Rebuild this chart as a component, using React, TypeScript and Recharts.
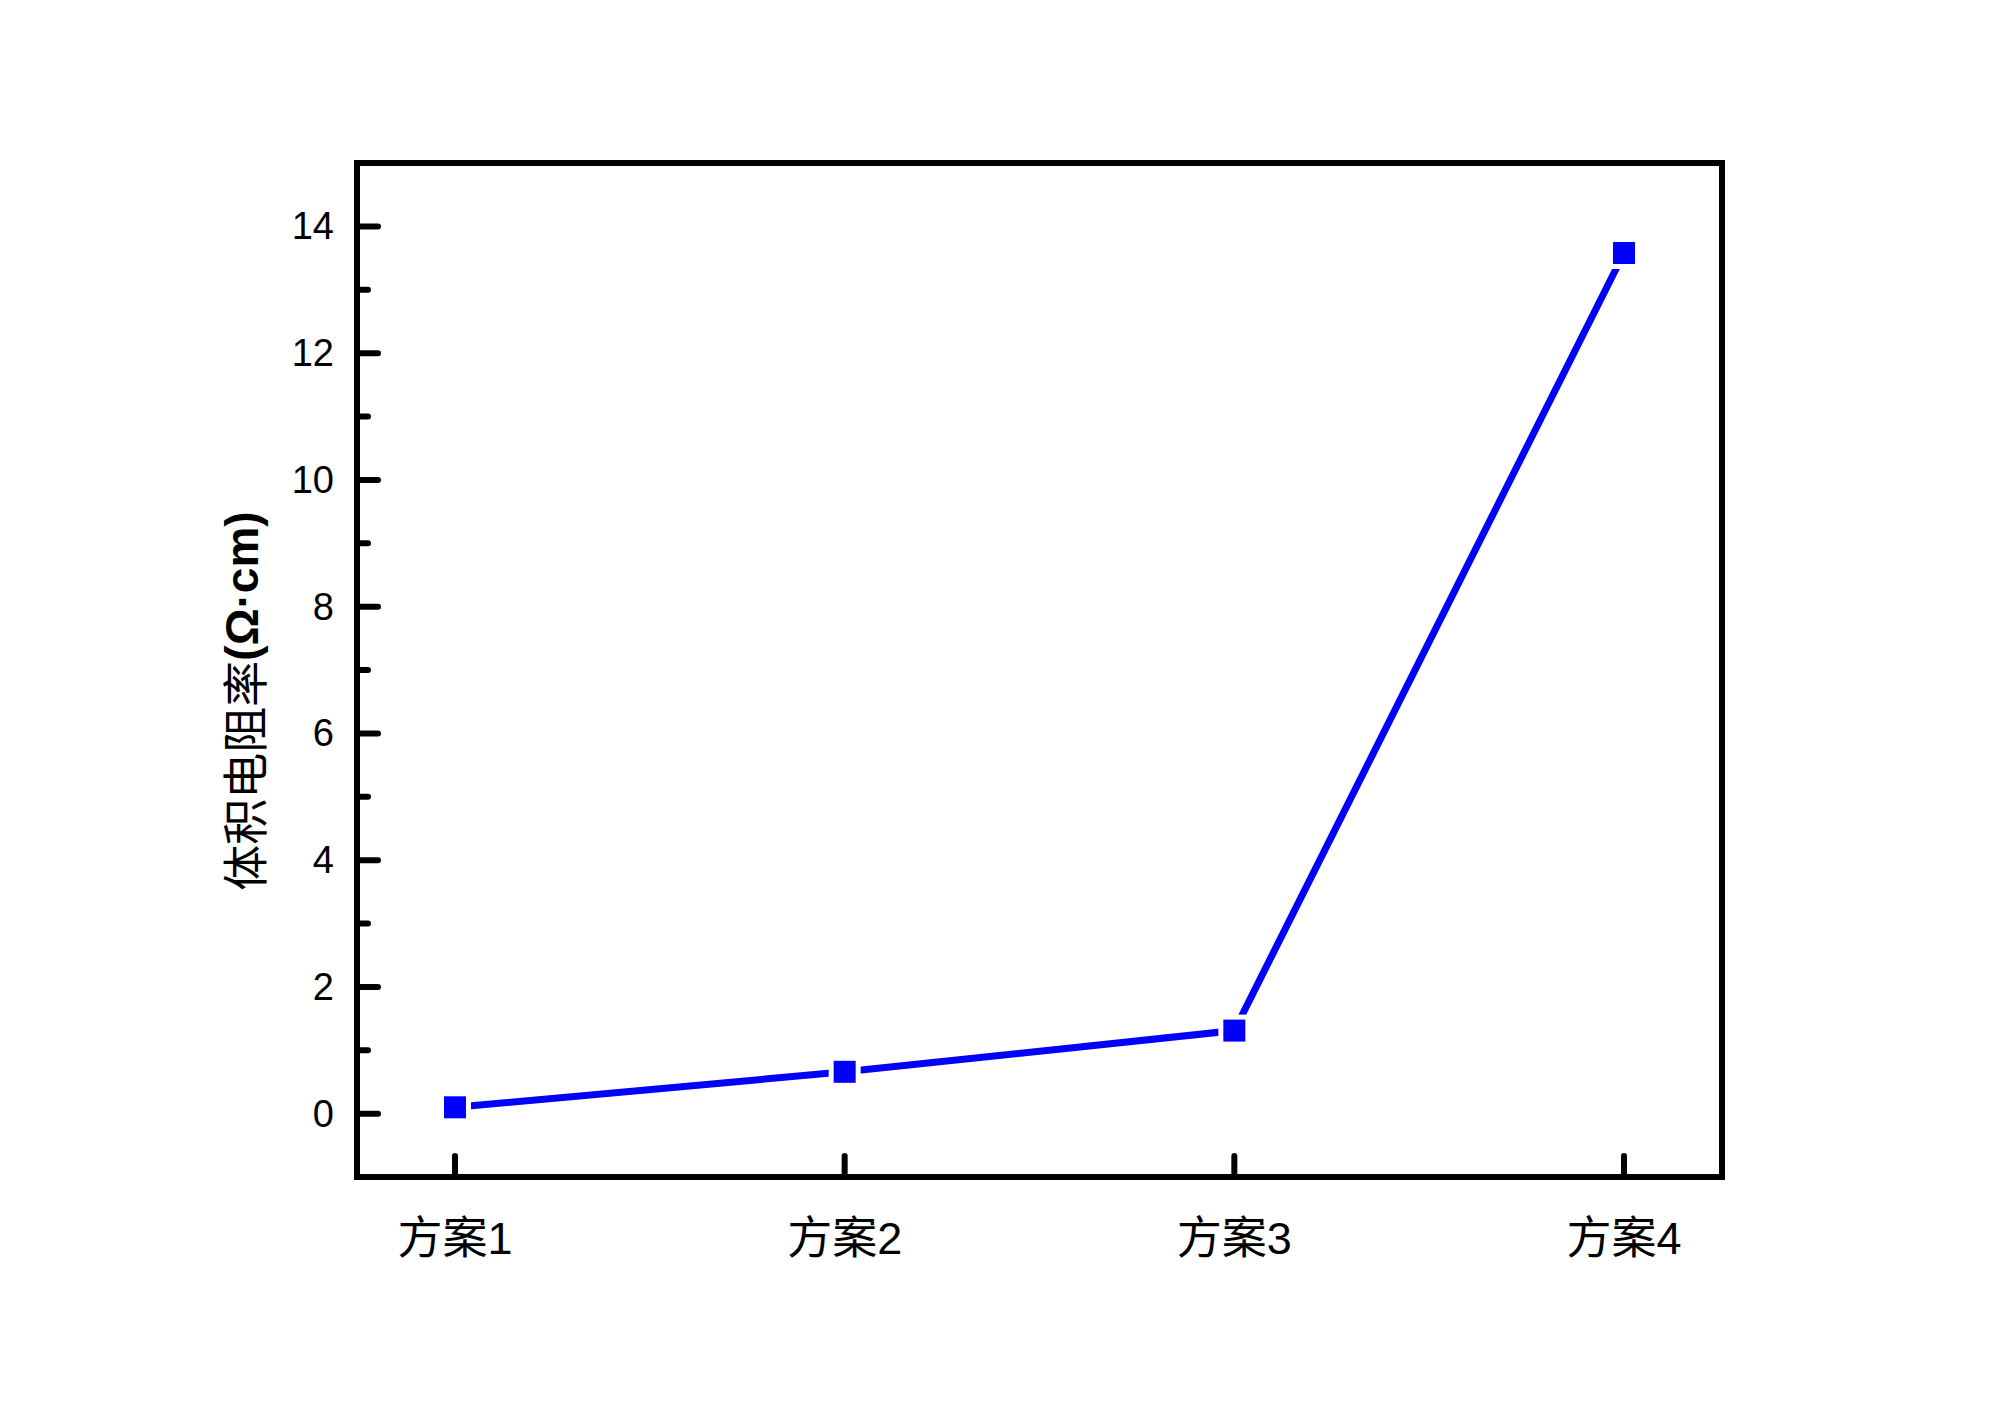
import { LineChart, Line, XAxis, YAxis } from 'recharts';

const schemes = ['方案1', '方案2', '方案3', '方案4'];
const resistivity = [0.1, 0.66, 1.31, 13.58];
const yTicks = [0, 1, 2, 3, 4, 5, 6, 7, 8, 9, 10, 11, 12, 13, 14];

const data = schemes.map((name, i) => ({ name, value: resistivity[i] }));

const frame = { stroke: '#000', strokeWidth: 6, strokeLinecap: 'square' as const };

const YTick = (props: any) => {
    const { x, y, payload } = props;
    const major = payload.value % 2 === 0;
    return (
        <g>
            <line x1={x} y1={y} x2={x + (major ? 21 : 11)} y2={y} stroke="#000" strokeWidth={6} strokeLinecap="round" />
            {major && (
                <text x={x - 23} y={y} textAnchor="end" dominantBaseline="central" fontSize={38} fontFamily="'Liberation Sans', Arial" fill="#000">
                    {payload.value}
                </text>
            )}
        </g>
    );
};

const XTick = (props: any) => {
    const { x, y, payload } = props;
    return (
        <g>
            <line x1={x} y1={y} x2={x} y2={y - 21} stroke="#000" strokeWidth={6} strokeLinecap="round" />
            <text x={x} y={y + 61} textAnchor="middle" dominantBaseline="central" fontSize={45} fontFamily="'Liberation Sans', 'Noto Sans CJK SC'" fill="#000">
                {payload.value}
            </text>
        </g>
    );
};

const SquareDot = (props: any) => {
    const { cx, cy } = props;
    if (cx == null || cy == null) return null;
    return (
        <g>
            <rect x={cx - 16} y={cy - 16} width={32} height={32} fill="#fff" />
            <rect x={cx - 11} y={cy - 11} width={22} height={22} fill="#0000ff" />
        </g>
    );
};

const YLabel = (props: any) => {
    const { viewBox } = props;
    const cx = viewBox.x - 15;
    const cy = viewBox.y + viewBox.height / 2 + 31;
    return (
        <text x={cx} y={cy} transform={`rotate(-90, ${cx}, ${cy})`} textAnchor="middle" dominantBaseline="central" fontSize={46} fill="#000" fontFamily="'Noto Sans CJK SC', 'Liberation Sans'">
            <tspan>体积电阻率</tspan>
            <tspan fontWeight="bold" fontFamily="'Liberation Sans', Arial">(Ω·cm)</tspan>
        </text>
    );
};

export default function App() {
    return (
        <div style={{ position: 'absolute', left: 0, top: 0, background: '#fff' }}>
            <LineChart width={2000} height={1413} data={data} margin={{ top: 162, right: 277, bottom: 176, left: 257 }}>
                <XAxis
                    dataKey="name"
                    height={60}
                    padding={{ left: 98, right: 98 }}
                    axisLine={frame}
                    tickLine={false}
                    tickSize={0}
                    tickMargin={0}
                    interval={0}
                    tick={<XTick />}
                />
                <XAxis
                    xAxisId="top"
                    orientation="top"
                    dataKey="name"
                    height={1}
                    padding={{ left: 98, right: 98 }}
                    axisLine={frame}
                    tickLine={false}
                    tick={false}
                />
                <YAxis
                    domain={[-1, 15]}
                    ticks={yTicks}
                    interval={0}
                    width={100}
                    axisLine={frame}
                    tickLine={false}
                    tickSize={0}
                    tickMargin={0}
                    tick={<YTick />}
                    label={{ content: <YLabel /> }}
                />
                <YAxis
                    yAxisId="right"
                    orientation="right"
                    domain={[-1, 15]}
                    width={1}
                    axisLine={frame}
                    tickLine={false}
                    tick={false}
                />
                <Line
                    dataKey="value"
                    stroke="#0000ff"
                    strokeWidth={7}
                    strokeLinecap="round"
                    dot={<SquareDot />}
                    activeDot={false}
                    isAnimationActive={false}
                />
            </LineChart>
        </div>
    );
}
